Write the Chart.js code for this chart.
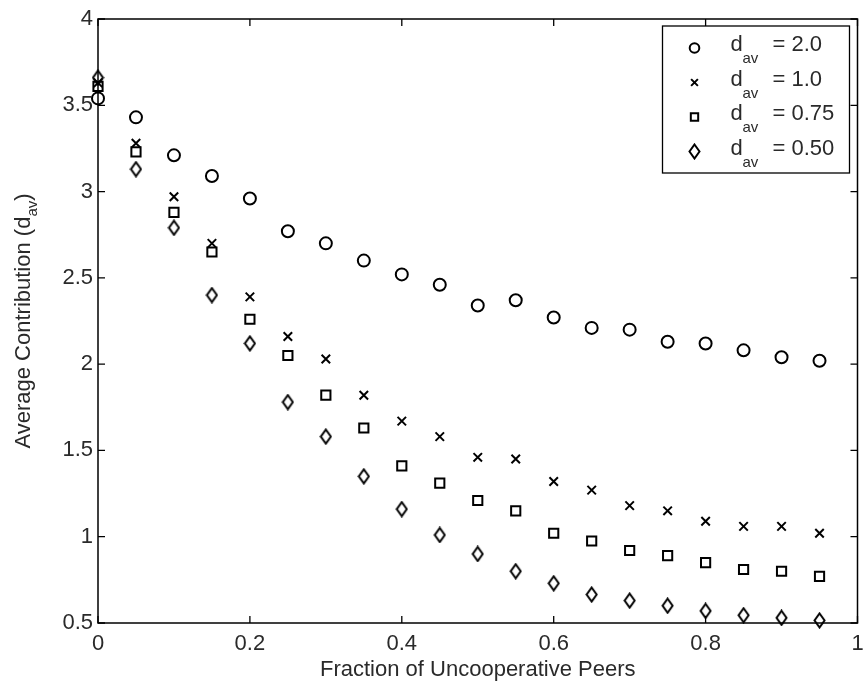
<!DOCTYPE html>
<html>
<head>
<meta charset="utf-8">
<script src="https://cdn.jsdelivr.net/npm/chart.js@4.4.1/dist/chart.umd.min.js"></script>
<style>
  html, body { margin: 0; padding: 0; background: #fff; }
  #wrap { width: 866px; height: 685px; }
</style>
</head>
<body>
<div id="wrap"><canvas id="myChart" width="866" height="685"></canvas></div>
<script>
var fractions = [0, 0.05, 0.1, 0.15, 0.2, 0.25, 0.3, 0.35, 0.4, 0.45, 0.5, 0.55, 0.6, 0.65, 0.7, 0.75, 0.8, 0.85, 0.9, 0.95];
var dav20  = [3.54, 3.43, 3.21, 3.09, 2.96, 2.77, 2.70, 2.60, 2.52, 2.46, 2.34, 2.37, 2.27, 2.21, 2.20, 2.13, 2.12, 2.08, 2.04, 2.02];
var dav10  = [3.63, 3.28, 2.97, 2.70, 2.39, 2.16, 2.03, 1.82, 1.67, 1.58, 1.46, 1.45, 1.32, 1.27, 1.18, 1.15, 1.09, 1.06, 1.06, 1.02];
var dav075 = [3.61, 3.23, 2.88, 2.65, 2.26, 2.05, 1.82, 1.63, 1.41, 1.31, 1.21, 1.15, 1.02, 0.975, 0.92, 0.89, 0.85, 0.81, 0.80, 0.77];
var dav050 = [3.66, 3.13, 2.79, 2.40, 2.12, 1.78, 1.58, 1.35, 1.16, 1.01, 0.90, 0.80, 0.73, 0.665, 0.63, 0.60, 0.57, 0.545, 0.53, 0.515];

var legendLabels = ['2.0', '1.0', '0.75', '0.50'];
var xTitle = 'Fraction of Uncooperative Peers';
var yTitle = 'Average Contribution (d';
var FONT = '"Liberation Sans", Arial, sans-serif';
var TEXT = '#2a2a2a';

// tall narrow diamond marker
function makeDiamond() {
  var c = document.createElement('canvas');
  c.width = 13; c.height = 17;
  var g = c.getContext('2d');
  g.strokeStyle = '#000';
  g.lineWidth = 2;
  g.beginPath();
  g.moveTo(6.5, 1.5);
  g.lineTo(11.5, 8.5);
  g.lineTo(6.5, 15.5);
  g.lineTo(1.5, 8.5);
  g.closePath();
  g.stroke();
  return c;
}
var diamond = makeDiamond();

function pts(ys) {
  return fractions.map(function (x, i) { return { x: x, y: ys[i] }; });
}

var series = [
  { data: dav20, style: 'circle', r: 6 },
  { data: dav10, style: 'crossRot', r: 6 },
  { data: dav075, style: 'rect', r: 6.5 },
  { data: dav050, style: diamond, r: 6 }
];

function numLabel(v) { return String(+v.toFixed(2)); }

// inward ticks, box, y title and legend like the original figure
var framePlugin = {
  id: 'frame',
  afterDraw: function (chart) {
    var ctx = chart.ctx, a = chart.chartArea;
    var xs = chart.scales.x, ys = chart.scales.y;
    ctx.save();
    ctx.strokeStyle = '#000';
    ctx.lineWidth = 1.5;
    ctx.strokeRect(a.left, a.top, a.right - a.left, a.bottom - a.top);
    ctx.lineWidth = 1.3;
    ctx.beginPath();
    xs.ticks.forEach(function (t) {
      var px = xs.getPixelForValue(t.value);
      ctx.moveTo(px, a.bottom); ctx.lineTo(px, a.bottom - 7);
      ctx.moveTo(px, a.top); ctx.lineTo(px, a.top + 7);
    });
    ys.ticks.forEach(function (t) {
      var py = ys.getPixelForValue(t.value);
      ctx.moveTo(a.left, py); ctx.lineTo(a.left + 7, py);
      ctx.moveTo(a.right, py); ctx.lineTo(a.right - 7, py);
    });
    ctx.stroke();

    // y title with subscript
    ctx.fillStyle = TEXT;
    ctx.translate(24, (a.top + a.bottom) / 2);
    ctx.rotate(-Math.PI / 2);
    ctx.font = '22px ' + FONT;
    var w1 = ctx.measureText(yTitle).width;
    ctx.font = '15px ' + FONT;
    var w2 = ctx.measureText('av').width;
    ctx.font = '22px ' + FONT;
    var w3 = ctx.measureText(')').width;
    var x0 = -(w1 + w2 + w3) / 2;
    ctx.textBaseline = 'middle';
    ctx.fillText(yTitle, x0, 0);
    ctx.font = '15px ' + FONT;
    ctx.fillText('av', x0 + w1, 9);
    ctx.font = '22px ' + FONT;
    ctx.fillText(')', x0 + w1 + w2, 0);
    ctx.restore();

    // legend box
    var bx = a.right - 195, by = a.top + 7, bw = 187, bh = 147;
    ctx.save();
    ctx.fillStyle = '#fff';
    ctx.fillRect(bx, by, bw, bh);
    ctx.strokeStyle = '#000';
    ctx.lineWidth = 1.3;
    ctx.strokeRect(bx, by, bw, bh);
    series.forEach(function (s, i) {
      var cy = by + 22 + i * 34.5;
      ctx.strokeStyle = '#000';
      ctx.fillStyle = 'rgba(0,0,0,0)';
      ctx.lineWidth = 2;
      Chart.helpers.drawPoint(ctx, { pointStyle: s.style, radius: s.r * 0.8, borderWidth: 2 }, bx + 32, cy);
      ctx.fillStyle = TEXT;
      ctx.textBaseline = 'alphabetic';
      ctx.font = '22px ' + FONT;
      ctx.fillText('d', bx + 68, cy + 3);
      ctx.font = '15px ' + FONT;
      ctx.fillText('av', bx + 80, cy + 15);
      ctx.font = '22px ' + FONT;
      ctx.fillText('= ' + legendLabels[i], bx + 110, cy + 3);
    });
    ctx.restore();
  }
};

var ctx = document.getElementById('myChart').getContext('2d');
var myChart = new Chart(ctx, {
  type: 'scatter',
  data: {
    datasets: series.map(function (s, i) {
      return {
        label: 'd_av = ' + legendLabels[i],
        data: pts(s.data),
        pointStyle: s.style,
        pointRadius: s.r,
        pointHoverRadius: s.r,
        pointBorderWidth: 2,
        borderColor: '#000',
        backgroundColor: 'rgba(0,0,0,0)',
        clip: false
      };
    })
  },
  options: {
    responsive: false,
    animation: false,
    layout: { padding: { top: 19, right: 3, left: 0, bottom: 0 } },
    plugins: { legend: { display: false }, tooltip: { enabled: false } },
    scales: {
      x: {
        type: 'linear', min: 0, max: 1,
        ticks: { stepSize: 0.2, color: TEXT, font: { size: 22, family: FONT }, padding: 8, maxRotation: 0,
                 callback: numLabel },
        grid: { display: false, drawTicks: false },
        border: { display: false },
        title: { display: true, text: xTitle, color: TEXT, font: { size: 22, family: FONT }, padding: { top: 0, bottom: 2 } },
        afterFit: function (s) { s.height = 62; s.paddingLeft = 0; s.paddingRight = 0; }
      },
      y: {
        min: 0.5, max: 4,
        ticks: { stepSize: 0.5, color: TEXT, font: { size: 22, family: FONT }, padding: 5, callback: numLabel },
        grid: { display: false, drawTicks: false },
        border: { display: false },
        afterFit: function (s) { s.width = 98; s.paddingTop = 0; s.paddingBottom = 0; }
      }
    }
  },
  plugins: [framePlugin]
});
</script>
</body>
</html>
